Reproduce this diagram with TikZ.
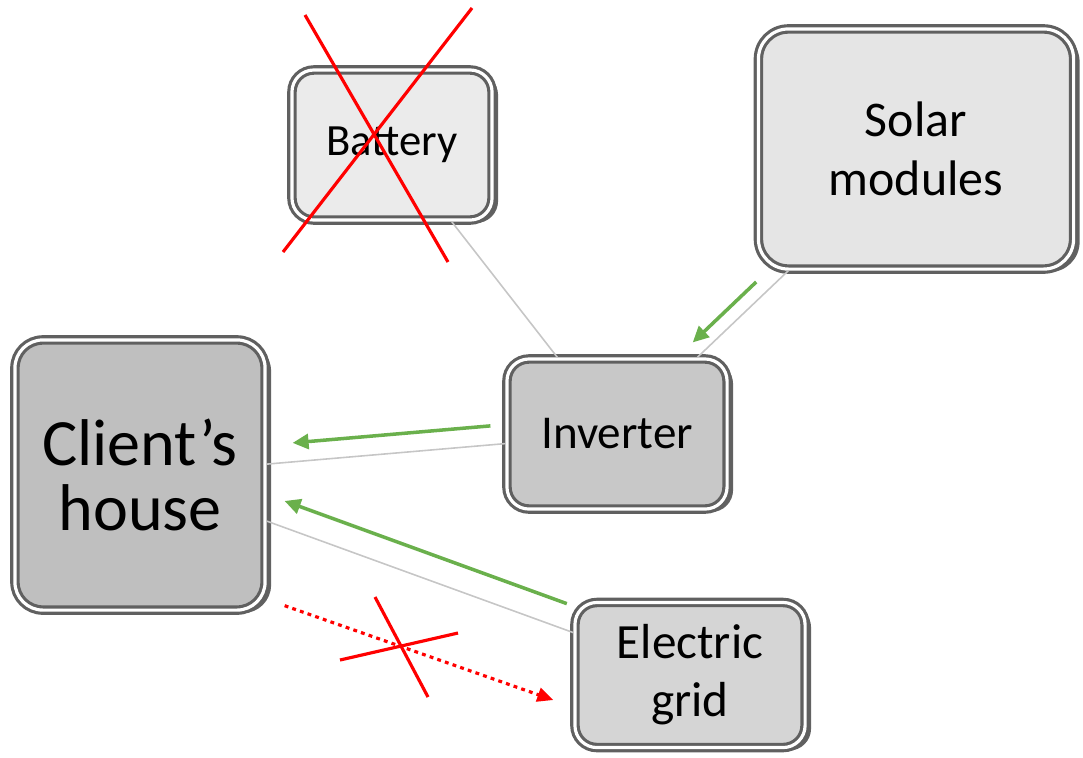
\documentclass[tikz,border=0pt]{standalone}
\usepackage{fontspec}
\setmainfont{Carlito}
\usepackage{tikz}
\usetikzlibrary{arrows.meta, shadows, calc}
\definecolor{flowgreen}{RGB}{106, 176, 76}

\begin{document}
\begin{tikzpicture}[
  x = 0.01cm, y = -0.01cm,
  every node/.style = {text=black},
  % node styles
  box/.style   = {rectangle, rounded corners=0.22cm, draw=gray!75!black,
                  line width=0.9pt, double=white, double distance=0.9pt,
                  align=center, inner sep=0pt,
                  drop shadow={shadow xshift=0.06cm, shadow yshift=-0.03cm,
                               fill=gray!55!black, opacity=0.85}},
  % arrow styles
  wire/.style   = {draw=gray!45, line width=0.45pt},
  feed/.style   = {-{Triangle[length=0.16cm, width=0.15cm]}, color=flowgreen,
                   line width=1.0pt},
  nofeed/.style = {-{Triangle[length=0.16cm, width=0.14cm]}, color=red,
                   line width=0.9pt, dash pattern=on 1.1pt off 1.2pt},
  cross/.style  = {draw=red, line width=0.9pt},
]
\useasboundingbox (0,0) rectangle (1083,757);

%% Boxes
\node[box, fill=gray!16, minimum width=2.0cm, minimum height=1.5cm,
      font=\fontsize{12.7}{15}\selectfont] (bat) at (392,145) {Battery};
\node[box, fill=gray!20, minimum width=3.15cm, minimum height=2.4cm, rounded corners=0.3cm,
      font=\fontsize{14.2}{16.8}\selectfont] (sol) at (916,149) {Solar\\modules};
\node[box, fill=gray!50, minimum width=2.5cm, minimum height=2.7cm, rounded corners=0.28cm,
      font=\fontsize{18.8}{18.5}\selectfont] (house) at (140,475) {Client’s\\house};
\node[box, fill=gray!43, minimum width=2.2cm, minimum height=1.5cm,
      font=\fontsize{13.4}{16}\selectfont] (inv) at (617,434) {Inverter};
\node[box, fill=gray!33, minimum width=2.3cm, minimum height=1.45cm,
      font=\fontsize{14}{16.5}\selectfont] (grid) at (690,675) {Electric\\grid};

%% Wires
\draw[wire] (bat)  -- (inv);
\draw[wire] (sol)  -- (inv);
\draw[wire] (inv)  -- (house);
\draw[wire] (grid) -- (house);

%% Power flow
\draw[feed, shorten <=0.31cm, shorten >=0.07cm,
      transform canvas={xshift=-0.097cm, yshift=0.101cm}] (sol) -- (inv);
\draw[feed, shorten <=0.15cm, shorten >=0.26cm,
      transform canvas={yshift=0.19cm}] (inv) -- (house);
\draw[feed, shorten <=0.16cm, shorten >=0.10cm,
      transform canvas={xshift=0.085cm, yshift=0.235cm}] (grid) -- (house);

%% No feed-in to the grid
\draw[nofeed] ([shift={(18,-6)}]house.south east) -- ([shift={(-20,25)}]grid.west);
\draw[cross] (340,660) -- (458,633);
\draw[cross] (375,597) -- (428,697);

%% No battery
\draw[cross] (305,15) -- (448,262);
\draw[cross] (472,8)  -- (283,252);

\end{tikzpicture}
\end{document}
